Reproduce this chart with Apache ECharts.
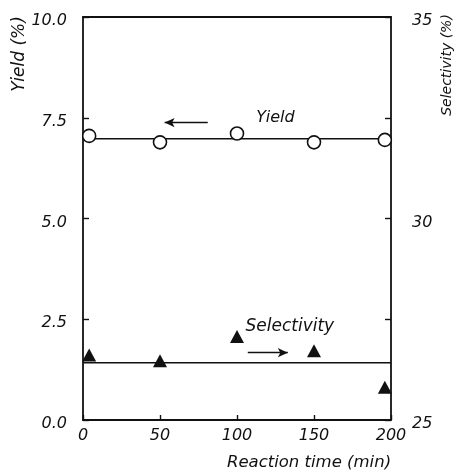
<!DOCTYPE html>
<html>
<head>
<meta charset="utf-8">
<script src="https://cdn.jsdelivr.net/npm/echarts@6/dist/echarts.min.js"></script>
<style>
  html, body { margin: 0; padding: 0; background: #fff; }
  #chart { width: 458px; height: 472px; }
</style>
</head>
<body>
<div id="chart"></div>
<script>
// Reaction time (min) of each sample
const times = [4, 50, 100, 150, 196];
// Yield (%) — left axis
const yieldVals = [7.05, 6.89, 7.11, 6.89, 6.95];
// Selectivity (%) — right axis
const selectivityVals = [26.61, 26.47, 27.07, 26.72, 25.81];
// Mean levels drawn as horizontal lines
const yieldMean = 6.98;
const selectivityMean = 26.42;
// Axis ranges
const xRange = [0, 200, 50];
const yieldRange = [0, 10, 2.5];
const selectivityRange = [25, 35, 2.5];
const selectivityLabels = [25, 30, 35];

const FONT = 'DejaVu Sans';
const INK = '#111';

const chart = echarts.init(document.getElementById('chart'), null, { renderer: 'canvas' });

const tickLabel = {
  color: INK, fontFamily: FONT, fontStyle: 'italic', fontSize: 16
};
// value labels on the y axes sit slightly below their tick marks
const yTickLabel = Object.assign({ verticalAlign: 'top', lineHeight: 8 }, tickLabel);
const frameLine = { show: true, onZero: false, lineStyle: { color: INK, width: 1.8 } };
const tickStyle = { color: INK, width: 1.4 };

chart.setOption({
  animation: false,
  backgroundColor: '#fff',
  grid: { left: 83, right: 67, top: 17, bottom: 52 },
  xAxis: [
    {
      type: 'value', position: 'bottom',
      min: xRange[0], max: xRange[1], interval: xRange[2],
      axisLine: frameLine,
      axisTick: { show: true, inside: true, length: 5, lineStyle: tickStyle },
      axisLabel: Object.assign({ margin: 8 }, tickLabel),
      splitLine: { show: false }
    },
    {
      type: 'value', position: 'top',
      min: xRange[0], max: xRange[1],
      axisLine: frameLine,
      axisTick: { show: false }, axisLabel: { show: false },
      splitLine: { show: false }
    }
  ],
  yAxis: [
    {
      type: 'value', position: 'left',
      min: yieldRange[0], max: yieldRange[1], interval: yieldRange[2],
      axisLine: frameLine,
      axisTick: { show: true, inside: true, length: 6, lineStyle: tickStyle },
      axisLabel: Object.assign({
        margin: 16,
        formatter: v => v.toFixed(1)
      }, yTickLabel),
      splitLine: { show: false }
    },
    {
      type: 'value', position: 'right',
      min: selectivityRange[0], max: selectivityRange[1], interval: selectivityRange[2],
      axisLine: frameLine,
      axisTick: { show: true, inside: true, length: 6, lineStyle: tickStyle },
      axisLabel: Object.assign({
        margin: 21,
        formatter: v => selectivityLabels.includes(v) ? String(v) : ''
      }, yTickLabel),
      splitLine: { show: false }
    }
  ],
  series: [
    {
      name: 'Yield mean', type: 'line', xAxisIndex: 0, yAxisIndex: 0,
      data: [[xRange[0], yieldMean], [xRange[1], yieldMean]],
      symbol: 'none', lineStyle: { color: INK, width: 1.5 }, z: 2,
      markLine: {
        silent: true, symbol: ['arrow', 'none'], symbolSize: [7, 10],
        lineStyle: { color: INK, width: 1.3, type: 'solid' },
        label: { show: false },
        data: [[{ coord: [53, 7.38] }, { coord: [81, 7.38] }]]
      },
      markPoint: {
        silent: true, symbol: 'circle', symbolSize: 0,
        label: {
          show: true, position: 'right', distance: 0, formatter: 'Yield',
          color: INK, fontFamily: FONT, fontStyle: 'italic', fontSize: 16
        },
        data: [{ coord: [112.5, 7.49] }]
      }
    },
    {
      name: 'Selectivity mean', type: 'line', xAxisIndex: 0, yAxisIndex: 1,
      data: [[xRange[0], selectivityMean], [xRange[1], selectivityMean]],
      symbol: 'none', lineStyle: { color: INK, width: 1.5 }, z: 2,
      markLine: {
        silent: true, symbol: ['none', 'arrow'], symbolSize: [7, 10],
        lineStyle: { color: INK, width: 1.3, type: 'solid' },
        label: { show: false },
        data: [[{ coord: [107, 26.67] }, { coord: [133, 26.67] }]]
      },
      markPoint: {
        silent: true, symbol: 'circle', symbolSize: 0,
        label: {
          show: true, position: 'right', distance: 0, formatter: 'Selectivity',
          color: INK, fontFamily: FONT, fontStyle: 'italic', fontSize: 17
        },
        data: [{ coord: [105.5, 27.32] }]
      }
    },
    {
      name: 'Yield', type: 'scatter', xAxisIndex: 0, yAxisIndex: 0,
      data: times.map((t, i) => [t, yieldVals[i]]),
      symbol: 'circle', symbolSize: 13,
      itemStyle: { color: '#fff', borderColor: INK, borderWidth: 1.6, opacity: 1 }, z: 4
    },
    {
      name: 'Selectivity', type: 'scatter', xAxisIndex: 0, yAxisIndex: 1,
      data: times.map((t, i) => [t, selectivityVals[i]]),
      symbol: 'triangle', symbolSize: [14, 13],
      itemStyle: { color: INK, opacity: 1 }, z: 4
    }
  ],
  graphic: [
    {
      type: 'text', x: 20, y: 54, rotation: Math.PI / 2,
      style: {
        text: 'Yield (%)', fill: INK, font: 'italic 17px "DejaVu Sans"',
        align: 'center', verticalAlign: 'middle'
      }
    },
    {
      type: 'text', x: 447, y: 65, rotation: Math.PI / 2,
      style: {
        text: 'Selectivity (%)', fill: INK, font: 'italic 14px "DejaVu Sans"',
        align: 'center', verticalAlign: 'middle'
      }
    },
    {
      type: 'text', x: 309, y: 463,
      style: {
        text: 'Reaction time (min)', fill: INK, font: 'italic 16.5px "DejaVu Sans"',
        align: 'center', verticalAlign: 'middle'
      }
    }
  ]
});
</script>
</body>
</html>
